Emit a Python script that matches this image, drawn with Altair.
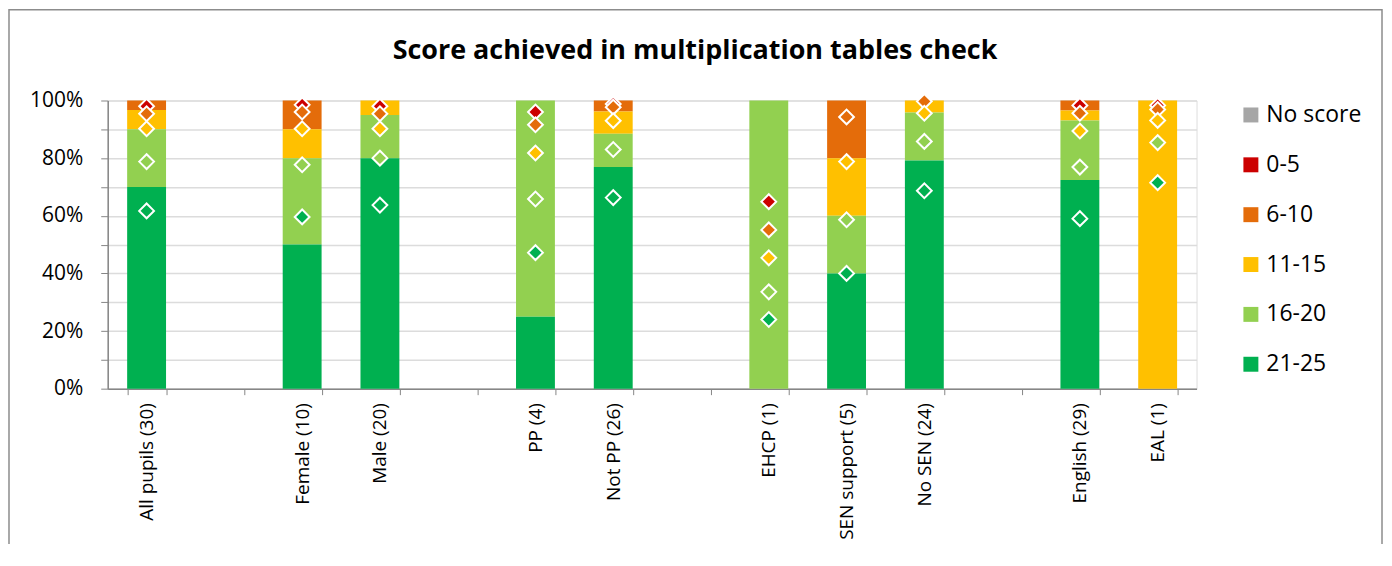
import altair as alt
import pandas as pd

# x-axis slots (blank entries are the gaps between groups)
slots = ["All pupils (30)", " ", "Female (10)", "Male (20)", "  ", "PP (4)", "Not PP (26)",
         "   ", "EHCP (1)", "SEN support (5)", "No SEN (24)", "    ", "English (29)", "EAL (1)"]
groups = ["All pupils (30)", "Female (10)", "Male (20)", "PP (4)", "Not PP (26)",
          "EHCP (1)", "SEN support (5)", "No SEN (24)", "English (29)", "EAL (1)"]

bands = ["No score", "0-5", "6-10", "11-15", "16-20", "21-25"]
colors = ["#A6A6A6", "#CC0000", "#E46C0A", "#FFC000", "#92D050", "#00B050"]

# pupil counts per score band (school)
counts_no_score = [0, 0, 0, 0, 0, 0, 0, 0, 0, 0]
counts_0_5 = [0, 0, 0, 0, 0, 0, 0, 0, 0, 0]
counts_6_10 = [1, 1, 0, 0, 1, 0, 1, 0, 1, 0]
counts_11_15 = [2, 1, 1, 0, 2, 0, 1, 1, 1, 1]
counts_16_20 = [6, 3, 3, 3, 3, 1, 1, 4, 6, 0]
counts_21_25 = [21, 5, 16, 1, 20, 0, 2, 19, 21, 0]

# comparison markers: cumulative % (from the bottom) up to the top of each band
cum_0_5 = [98.0, 98.5, 98.0, 96.0, 98.8, 64.9, None, None, 98.3, 98.3]
cum_6_10 = [95.4, 96.0, 95.4, 91.6, 97.7, 55.1, 94.3, 99.7, 95.6, 96.9]
cum_11_15 = [90.2, 90.2, 90.2, 81.8, 93.0, 45.4, 78.8, 95.6, 89.4, 93.1]
cum_16_20 = [78.8, 77.7, 80.0, 65.8, 83.0, 33.6, 58.6, 85.8, 76.9, 85.4]
cum_21_25 = [61.7, 59.6, 63.7, 47.2, 66.3, 24.0, 40.0, 68.7, 59.0, 71.5]

count_lists = [counts_no_score, counts_0_5, counts_6_10, counts_11_15, counts_16_20, counts_21_25]
bar_rows = []
for bi, (band, cl) in enumerate(zip(bands, count_lists)):
    for g, c in zip(groups, cl):
        if c > 0:
            bar_rows.append({"group": g, "band": band, "count": c, "stack_rank": 5 - bi})
bars_df = pd.DataFrame(bar_rows)

cum_lists = [("0-5", cum_0_5), ("6-10", cum_6_10), ("11-15", cum_11_15),
             ("16-20", cum_16_20), ("21-25", cum_21_25)]
pt_rows = []
for band, cl in cum_lists:
    for g, v in zip(groups, cl):
        if v is not None:
            pt_rows.append({"group": g, "band": band, "value": v / 100.0})
pts_df = pd.DataFrame(pt_rows)

FONT = "Open Sans"
W, H = 1092, 289

x_enc = alt.X("group:N", sort=slots,
              scale=alt.Scale(domain=slots, paddingInner=0.5, paddingOuter=0.25),
              axis=alt.Axis(title=None, labelAngle=-90, labelAlign="right", labelBaseline="middle",
                            labelFontSize=19, labelFont=FONT, labelColor="#000000", labelPadding=8,
                            tickBand="extent", tickSize=6, tickColor="#868686",
                            domainColor="#868686", domainWidth=1.5, grid=False))
y_axis = alt.Axis(title=None, values=[i / 10 for i in range(11)],
                  labelExpr="round(datum.value*10) % 2 == 0 ? format(datum.value, '.0%') : ''",
                  labelFontSize=21, labelFont=FONT, labelColor="#000000", labelPadding=18,
                  tickSize=7, tickColor="#868686", domainColor="#868686", domainWidth=1.5,
                  grid=True, gridColor="#dcdcdc", gridWidth=1.5)

bars = alt.Chart(bars_df).mark_bar().encode(
    x=x_enc,
    y=alt.Y("count:Q", stack="normalize", scale=alt.Scale(domain=[0, 1]), axis=y_axis),
    color=alt.Color("band:N", scale=alt.Scale(domain=bands, range=colors),
                    legend=alt.Legend(title=None, orient="none", legendX=1135, legendY=3,
                                      symbolType="square", symbolSize=225, symbolStrokeWidth=0,
                                      labelFontSize=23, labelFont=FONT, labelColor="#000000",
                                      labelOffset=4, rowPadding=26, padding=0)),
    order=alt.Order("stack_rank:Q", sort="ascending"),
)

points = alt.Chart(pts_df).mark_point(shape="diamond", filled=True, size=220, stroke="white",
                                      strokeWidth=2, opacity=1).encode(
    x=x_enc,
    y=alt.Y("value:Q", scale=alt.Scale(domain=[0, 1]), axis=y_axis),
    fill=alt.Fill("band:N", scale=alt.Scale(domain=bands, range=colors), legend=None),
)

frame = alt.Chart(alt.Data(values=[{"k": 1}])).mark_rect(
    fill="transparent", stroke="#8c8c8c", strokeWidth=1.5).encode(
    x=alt.value(-99), x2=alt.value(1278), y=alt.value(-91), y2=alt.value(520))

chart = alt.layer(frame, bars, points).resolve_scale(color="independent").properties(
    width=W, height=H,
    title=alt.TitleParams("Score achieved in multiplication tables check", font=FONT, fontSize=27,
                          fontWeight="bold", color="#000000", anchor="middle", frame="group",
                          baseline="alphabetic", dx=43, offset=-77),
    autosize=alt.AutoSizeParams(type="none"),
    padding={"left": 100, "top": 92, "right": 188, "bottom": 155},
).configure_view(stroke=None).configure(background="white")

chart.save("out.html", embed_options={"renderer": "svg", "actions": False})
